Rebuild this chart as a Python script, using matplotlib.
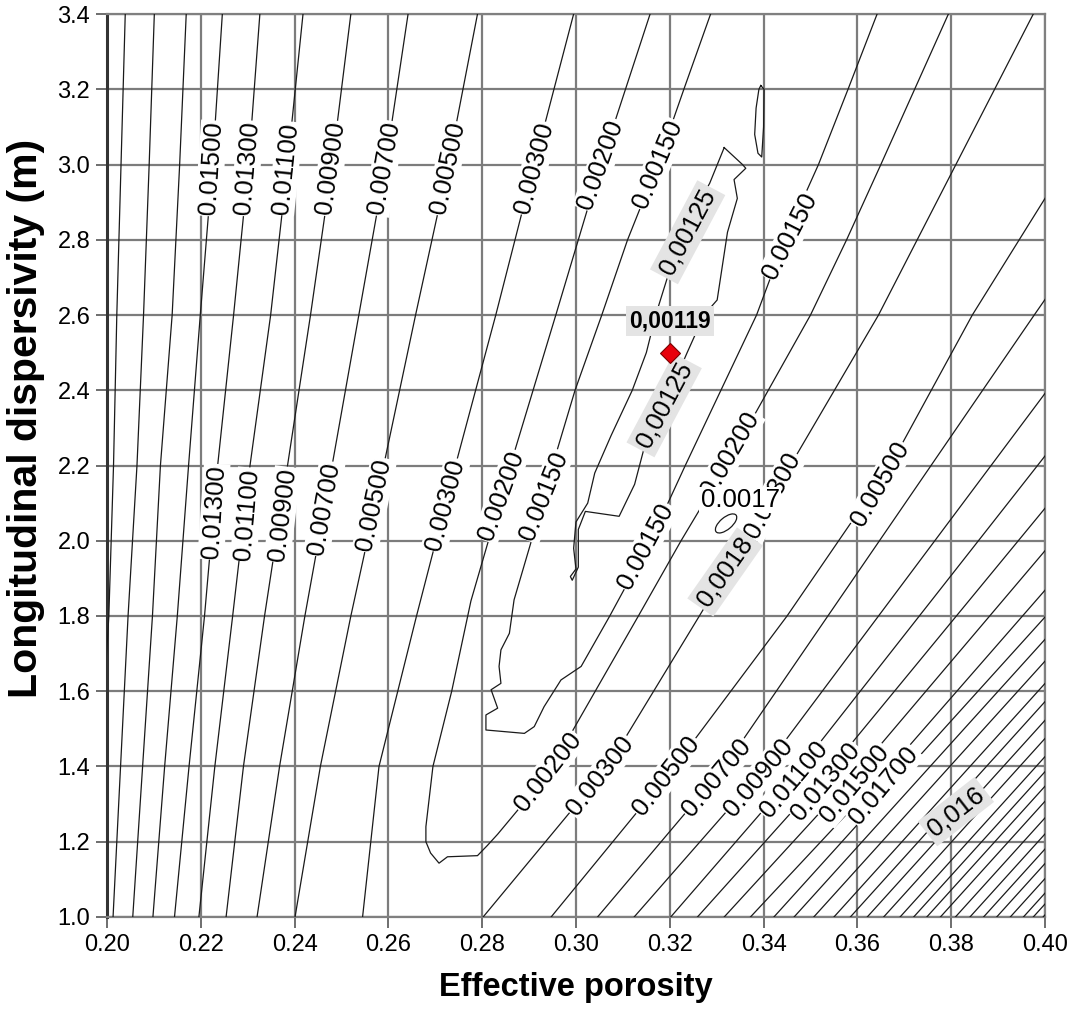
import numpy as np
import matplotlib
matplotlib.use("Agg")
import matplotlib.pyplot as plt
from matplotlib.patches import Ellipse
from matplotlib.transforms import ScaledTranslation

plt.rcParams['font.family'] = ['Liberation Sans', 'DejaVu Sans']

# rows (dispersivity) at which the contour x-positions were read
ROW_Y = [1.0, 1.4, 1.8, 2.2, 2.6, 3.0, 3.4]

# contours left of the valley (value falls towards the right)
LEFT_LEVELS = [0.021, 0.019, 0.017, 0.015, 0.013, 0.011, 0.009, 0.007, 0.005, 0.003]
LEFT_X = [
    [0.1965, 0.1985, 0.2004, 0.2014, 0.2021, 0.2030, 0.2039],
    [0.2013, 0.2029, 0.2045, 0.2064, 0.2078, 0.2090, 0.2101],
    [0.2055, 0.2076, 0.2097, 0.2114, 0.2139, 0.2155, 0.2169],
    [0.2098, 0.2123, 0.2150, 0.2174, 0.2199, 0.2225, 0.2246],
    [0.2144, 0.2175, 0.2208, 0.2236, 0.2270, 0.2302, 0.2326],
    [0.2196, 0.2230, 0.2268, 0.2305, 0.2349, 0.2385, 0.2418],
    [0.2254, 0.2291, 0.2336, 0.2385, 0.2434, 0.2480, 0.2520],
    [0.2320, 0.2368, 0.2422, 0.2480, 0.2537, 0.2594, 0.2642],
    [0.2401, 0.2455, 0.2520, 0.2590, 0.2658, 0.2728, 0.2790],
    [0.2545, 0.2580, 0.2660, 0.2743, 0.2829, 0.2911, 0.2995],
]

# contours right of the valley (value rises towards the right), x per row
RIGHT_LEVELS = [0.003, 0.005, 0.007, 0.009, 0.011, 0.013, 0.015, 0.017, 0.019,
                0.021, 0.023, 0.025, 0.027, 0.029, 0.031, 0.033, 0.035, 0.037,
                0.039, 0.041, 0.043, 0.045, 0.047, 0.049, 0.051, 0.053, 0.055]
RIGHT_X = [
    [0.2802, 0.3068, 0.3263, 0.3457, 0.3645, 0.3810, 0.3975],
    [0.2947, 0.3210, 0.3450, 0.3670, 0.3845, 0.4045, 0.4245],
    [0.3046, 0.3317, 0.3537, 0.3757, 0.3977, 0.4200],
    [0.3124, 0.3405, 0.3645, 0.3885, 0.4125],
    [0.3202, 0.3480, 0.3732, 0.3984, 0.4236],
    [0.3259, 0.3547, 0.3811, 0.4075],
    [0.3316, 0.3610, 0.3882, 0.4154],
    [0.3372, 0.3672, 0.3952, 0.4232],
    [0.3422, 0.3712, 0.4002],
    [0.3465, 0.3755, 0.4045],
    [0.3507, 0.3797, 0.4087],
    [0.3550, 0.3840, 0.4130],
    [0.3585, 0.3875, 0.4165],
    [0.3621, 0.3911, 0.4201],
    [0.3656, 0.3946, 0.4236],
    [0.3691, 0.3981, 0.4271],
    [0.3720, 0.4010],
    [0.3748, 0.4038],
    [0.3777, 0.4067],
    [0.3809, 0.4099],
    [0.3840, 0.4130],
    [0.3869, 0.4159],
    [0.3897, 0.4187],
    [0.3926, 0.4216],
    [0.3954, 0.4244],
    [0.3975, 0.4265],
    [0.3996, 0.4286],
]

# U-shaped 0.002 contour (left branch down, round the bottom, right branch up)
U002_X = [0.3158, 0.3053, 0.2957, 0.2860, 0.2776, 0.2735, 0.2695, 0.2680, 0.2680,
          0.2690, 0.2708, 0.2726, 0.2790, 0.2811, 0.2833, 0.2940, 0.3041, 0.3133,
          0.3224, 0.3320, 0.3410, 0.3500, 0.3577, 0.3650, 0.3722, 0.3794]
U002_Y = [3.4, 3.0, 2.6, 2.2, 1.84, 1.6, 1.4, 1.24, 1.20,
          1.17, 1.143, 1.16, 1.163, 1.19, 1.22, 1.38, 1.6, 1.8,
          2.0, 2.2, 2.4, 2.6, 2.8, 3.0, 3.2, 3.4]

# U-shaped 0.0015 contour
U0015_X = [0.3287, 0.3230, 0.3174, 0.3110, 0.3055, 0.2998, 0.2950, 0.2905, 0.2868,
           0.2858, 0.2840, 0.2836, 0.2840, 0.2819, 0.2833, 0.2808, 0.2808, 0.2890,
           0.2911, 0.2932, 0.2968, 0.3011, 0.3072, 0.3159, 0.3233, 0.3309, 0.3385,
           0.3445, 0.3517, 0.3580, 0.3642]
U0015_Y = [3.4, 3.2, 3.0, 2.8, 2.6, 2.4, 2.2, 2.0, 1.843,
           1.754, 1.710, 1.666, 1.621, 1.604, 1.555, 1.537, 1.497, 1.488,
           1.506, 1.559, 1.630, 1.666, 1.8, 2.0, 2.2, 2.4, 2.6,
           2.8, 3.0, 3.2, 3.4]

# closed 0.00125 contour around the minimum (with its thin tail)
LOOP_X = [0.3316, 0.3285, 0.3240, 0.3200, 0.3170, 0.3150, 0.3120, 0.3075, 0.3040,
          0.3025, 0.3000, 0.2995, 0.3000, 0.2988, 0.2992, 0.3005, 0.3005, 0.3020,
          0.3092, 0.3125, 0.3145, 0.3188, 0.3237, 0.3273, 0.3301, 0.3323, 0.3344,
          0.3337, 0.3362, 0.3355, 0.3316]
LOOP_Y = [3.045, 2.95, 2.85, 2.72, 2.60, 2.50, 2.40, 2.28, 2.18,
          2.10, 2.05, 1.98, 1.925, 1.905, 1.895, 1.93, 2.03, 2.078,
          2.065, 2.15, 2.245, 2.36, 2.50, 2.60, 2.64, 2.82, 2.91,
          2.96, 2.99, 3.0, 3.045]

# small closed island near the top
ISLAND_X = [0.3394, 0.3401, 0.3400, 0.3396, 0.3388, 0.3381, 0.3384, 0.3390, 0.3394]
ISLAND_Y = [3.21, 3.20, 3.10, 3.02, 3.03, 3.08, 3.15, 3.20, 3.21]

# small closed 0.0017 contour
ELL_X, ELL_Y = 0.3320, 2.046

# best-fit point
BEST_X, BEST_Y, BEST_TXT = 0.32, 2.50, '0,00119'

# contour labels: text, x, y, screen rotation
LABELS = [
    ('0.01500', 0.2222, 2.99, 86), ('0.01300', 0.2299, 2.99, 85),
    ('0.01100', 0.2381, 2.99, 84), ('0.00900', 0.2477, 2.99, 82),
    ('0.00700', 0.2591, 2.99, 80), ('0.00500', 0.2726, 2.99, 78),
    ('0.00300', 0.2911, 2.99, 75), ('0.00200', 0.3053, 3.00, 70),
    ('0.00150', 0.3174, 3.00, 67), ('0.00150', 0.3457, 2.81, 63),
    ('0.01300', 0.2228, 2.077, 86), ('0.01100', 0.2299, 2.07, 85),
    ('0.00900', 0.2374, 2.07, 83), ('0.00700', 0.2463, 2.085, 80),
    ('0.00500', 0.2570, 2.095, 78), ('0.00300', 0.2722, 2.095, 75),
    ('0.00200', 0.2840, 2.12, 70), ('0.00150', 0.2932, 2.12, 68),
    ('0.00150', 0.3149, 1.985, 62), ('0.00200', 0.3329, 2.23, 60),
    ('0.00300', 0.3420, 2.12, 62), ('0.00500', 0.3648, 2.15, 60),
    ('0.0017', 0.3350, 2.108, 0),
    ('0.00200', 0.2940, 1.385, 52), ('0.00300', 0.3052, 1.375, 52),
    ('0.00500', 0.3192, 1.375, 52), ('0.00700', 0.3300, 1.37, 50),
    ('0.00900', 0.3389, 1.37, 50), ('0.01100', 0.3465, 1.365, 50),
    ('0.01300', 0.3532, 1.36, 50), ('0.01500', 0.3595, 1.355, 50),
    ('0.01700', 0.3657, 1.35, 50),
]
GRAY_LABELS = [
    ('0,00125', 0.3238, 2.82, 62), ('0,00125', 0.3188, 2.36, 62),
    ('0,0018', 0.3318, 1.917, 55), ('0,016', 0.3810, 1.28, 38),
]

lab_fs = 18.5
tick_fs = 17

fig = plt.figure(figsize=(10.76, 10.10), dpi=100)
ax = fig.add_axes([0.0994, 0.0921, 0.8718, 0.8940])
ax.set_xlim(0.20, 0.40)
ax.set_ylim(1.0, 3.4)

line_kw = dict(color='#1a1a1a', lw=0.9, zorder=3, solid_joinstyle='round')
for xs in LEFT_X:
    ax.plot(xs, ROW_Y[:len(xs)], **line_kw)
for xs in RIGHT_X:
    ax.plot(xs, ROW_Y[:len(xs)], **line_kw)
ax.plot(U002_X, U002_Y, **line_kw)
ax.plot(U0015_X, U0015_Y, **line_kw)
ax.plot(LOOP_X, LOOP_Y, **line_kw)
ax.plot(ISLAND_X, ISLAND_Y, **line_kw)

ell = Ellipse((0, 0), 26 / 100, 12 / 100, angle=40, fill=False,
              edgecolor='#1a1a1a', lw=0.9, zorder=3,
              transform=fig.dpi_scale_trans + ScaledTranslation(ELL_X, ELL_Y, ax.transData))
ax.add_patch(ell)

for txt, x, y, rot in LABELS:
    ax.text(x, y, txt, rotation=rot, ha='center', va='center', fontsize=lab_fs,
            rotation_mode='anchor', zorder=5,
            bbox=dict(boxstyle='square,pad=0.05', fc='white', ec='none'))
for txt, x, y, rot in GRAY_LABELS:
    ax.text(x, y, txt, rotation=rot, ha='center', va='center', fontsize=lab_fs,
            rotation_mode='anchor', zorder=6,
            bbox=dict(boxstyle='square,pad=0.15', fc='#e4e4e4', ec='none'))

ax.plot([BEST_X], [BEST_Y], marker='D', ms=10, mfc='#e8000b', mec='#7a0000',
        mew=0.8, ls='none', zorder=7)
ax.text(BEST_X, BEST_Y + 0.085, BEST_TXT, ha='center', va='center',
        fontsize=lab_fs - 2, fontweight='bold', zorder=7,
        bbox=dict(boxstyle='square,pad=0.15', fc='#e4e4e4', ec='none'))

ax.set_xticks(np.arange(0.20, 0.401, 0.02))
ax.set_yticks(np.arange(1.0, 3.41, 0.2))
ax.xaxis.set_major_formatter(plt.FormatStrFormatter('%.2f'))
ax.yaxis.set_major_formatter(plt.FormatStrFormatter('%.1f'))
ax.tick_params(direction='out', length=8, width=1.2, colors='#555555',
               labelcolor='black', labelsize=tick_fs, pad=4)
ax.grid(True, color='#7c7c7c', lw=1.6, zorder=1)
ax.set_axisbelow(True)
for s in ax.spines.values():
    s.set_color('#808080')
    s.set_linewidth(1.6)
ax.spines['left'].set_color('#333333')
ax.spines['left'].set_linewidth(2.2)

ax.set_xlabel('Effective porosity', fontsize=23.5, fontweight='bold')
ax.xaxis.set_label_coords(0.5, -0.061)
ax.set_ylabel('Longitudinal dispersivity (m)', fontsize=29.5, fontweight='bold')
ax.yaxis.set_label_coords(-0.066, 0.552)

fig.savefig('out.png', dpi=100)
